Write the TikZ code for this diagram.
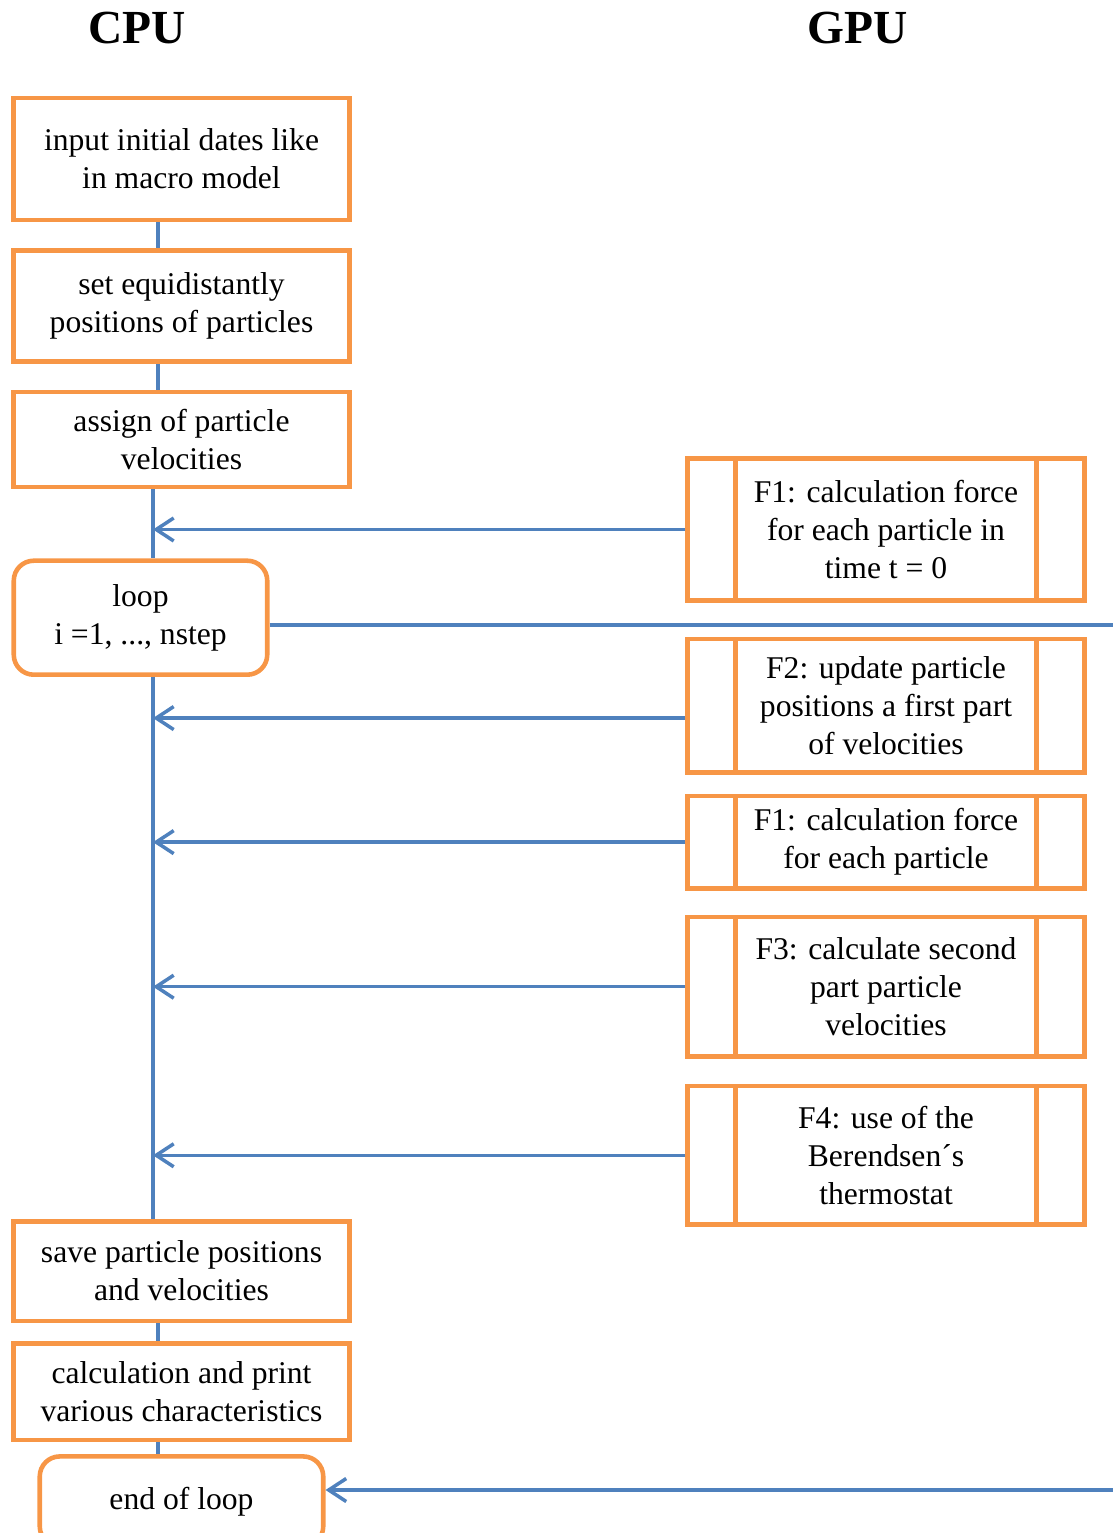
\documentclass[tikz,border=0pt]{standalone}
\usepackage{fontspec}
\setmainfont{Liberation Serif}
\usepackage{tikz}
\usetikzlibrary{arrows.meta,positioning}
\definecolor{colOrange500}{HTML}{F79646}
\definecolor{colBlue500}  {HTML}{4F81BD}
\tikzset{
  block/.style={
    draw=colOrange500, line width=2.6pt,
    minimum width=67.1mm, align=center, inner sep=3pt,
    font=\fontsize{18}{21.6}\selectfont
  },
  cpubox/.style ={block},
  loopbox/.style={block, rounded corners=4mm},
  gpubox/.style ={block, minimum width=79.3mm,
    path picture={
      \draw[draw=colOrange500, line width=2.6pt]
        ([xshift=9.6mm]path picture bounding box.north west) -- ([xshift=9.6mm]path picture bounding box.south west)
        ([xshift=-9.6mm]path picture bounding box.north east) -- ([xshift=-9.6mm]path picture bounding box.south east);
    }
  },
  title/.style  ={font=\fontsize{27}{32}\selectfont\bfseries},
  link/.style   ={draw=colBlue500, line width=2pt},
  mainarr/.style={
    link, -{Straight Barb[length=3.5mm,width=4.6mm]}
  }
}

\begin{document}
\begin{tikzpicture}
    \useasboundingbox (0,0) rectangle (222.6mm,-306.6mm);

    \node[title] (cpu) at (27.4mm,-5.6mm) {CPU};
    \node[title] (gpu) at (171.6mm,-5.6mm) {GPU};

    \node[cpubox, minimum height=24.4mm] (input) at (36.3mm,-31.8mm) {input initial dates like\\in macro model};
    \node[cpubox, minimum height=22.2mm, below=5.2mm of input] (setpos) {set equidistantly\\positions of particles};
    \node[cpubox, minimum height=19mm, below=5.2mm of setpos] (assign) {assign of particle\\velocities};
    \node[loopbox, minimum width=50.7mm, minimum height=22.8mm, below right=13.8mm and 0mm of assign.south west] (loop) {loop\\i =1, ..., nstep};
    \node[cpubox, minimum height=19.9mm, below right=108.4mm and 0mm of loop.south west] (save) {save particle positions\\and velocities};
    \node[cpubox, minimum height=19.3mm, below=3.6mm of save] (calc) {calculation and print\\various characteristics};
    \node[loopbox, minimum width=56.7mm, minimum height=18mm, below=2.4mm of calc] (endloop) {end of loop};

    \node[gpubox, minimum height=28.3mm] (force0) at (177.2mm,-105.9mm) {F1: calculation force\\for each particle in\\time t = 0};
    \node[gpubox, minimum height=26.7mm, below=6.8mm of force0] (update) {F2: update particle\\positions a first part\\of velocities};
    \node[gpubox, minimum height=18.5mm, below=3.8mm of update] (force) {F1: calculation force\\for each particle};
    \node[gpubox, minimum height=27.9mm, below=4.8mm of force] (second) {F3: calculate second\\part particle\\velocities};
    \node[gpubox, minimum height=27.7mm, below=5mm of second] (thermo) {F4: use of the\\Berendsen´s\\thermostat};

    \coordinate (spine) at (31.6mm,0);
    \coordinate (trunk) at (30.6mm,0);
    \coordinate (gpuin) at (222.6mm,-125mm);
    \coordinate (gpuout) at (222.6mm,-298mm);

    \draw[link] (input.south -| spine) -- (setpos.north -| spine);
    \draw[link] (setpos.south -| spine) -- (assign.north -| spine);
    \draw[link] (assign.south -| trunk) -- (loop.north -| trunk);
    \draw[link] (loop.east |- gpuin) -- (gpuin);
    \draw[link] (loop.south -| trunk) -- (save.north -| trunk);
    \draw[link] (save.south -| spine) -- (calc.north -| spine);
    \draw[link] (calc.south -| spine) -- (endloop.north -| spine);

    \draw[mainarr] (force0.west) -- (force0.west -| trunk);
    \draw[mainarr] ([yshift=-2.5mm]update.west) -- ([yshift=-2.5mm]update.west -| trunk);
    \draw[mainarr] (force.west) -- (force.west -| trunk);
    \draw[mainarr] (second.west) -- (second.west -| trunk);
    \draw[mainarr] (thermo.west) -- (thermo.west -| trunk);
    \draw[mainarr] (gpuout) -- (gpuout -| endloop.east);
\end{tikzpicture}
\end{document}
